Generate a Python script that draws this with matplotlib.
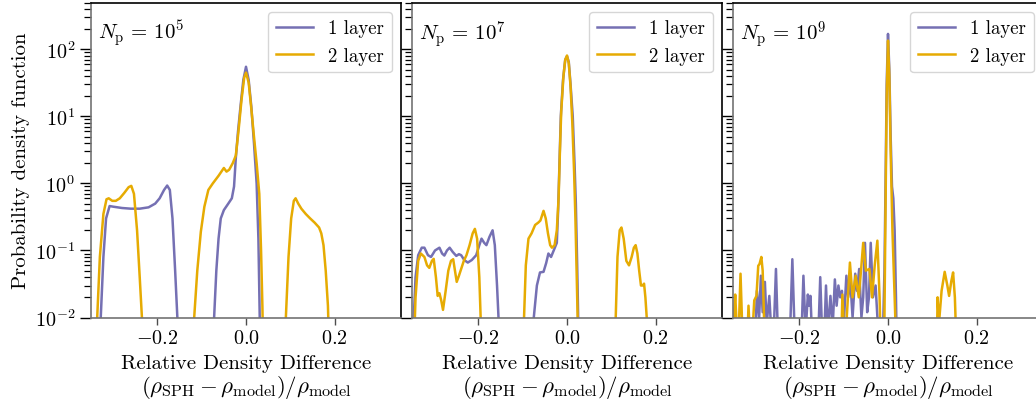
import numpy as np
import matplotlib.pyplot as plt
from matplotlib.ticker import LogLocator, NullFormatter, FixedLocator

plt.rcParams["font.family"] = "cmr10"
plt.rcParams["mathtext.fontset"] = "cm"
plt.rcParams["axes.formatter.use_mathtext"] = True

PURPLE = "#7570b3"
ORANGE = "#e6ab02"

labels_np = [r"$N_{\rm p}\,=\,10^{5}$", r"$N_{\rm p}\,=\,10^{7}$", r"$N_{\rm p}\,=\,10^{9}$"]
series_names = ["1 layer", "2 layer"]
xticks = [-0.2, 0.0, 0.2]

# N_p = 1e5
x5_one = [-0.332, -0.328, -0.322, -0.316, -0.308, -0.300, -0.280, -0.260, -0.240, -0.220,
          -0.205, -0.195, -0.185, -0.178, -0.172, -0.166, -0.160, -0.155, -0.152,
          -0.076, -0.072, -0.067, -0.062, -0.057, -0.050, -0.040, -0.032, -0.027, -0.023,
          -0.018, -0.012, -0.006, 0.000, 0.006, 0.012, 0.018, 0.024, 0.028, 0.031, 0.033]
y5_one = [0.003, 0.01, 0.08, 0.3, 0.46, 0.45, 0.43, 0.42, 0.42, 0.44,
          0.5, 0.6, 0.8, 0.93, 0.8, 0.3, 0.05, 0.01, 0.003,
          0.003, 0.01, 0.05, 0.15, 0.3, 0.4, 0.5, 0.6, 0.9, 2.4,
          6, 15, 35, 55, 35, 14, 4, 1.0, 0.15, 0.01, 0.002]
x5_two = [-0.340, -0.336, -0.330, -0.322, -0.315, -0.310, -0.302, -0.294, -0.285, -0.275,
          -0.265, -0.259, -0.253, -0.246, -0.240, -0.235, -0.232,
          -0.120, -0.117, -0.110, -0.102, -0.094, -0.085, -0.075, -0.062, -0.050, -0.044,
          -0.038, -0.030, -0.023, -0.017, -0.010, -0.004, 0.000, 0.006, 0.012, 0.018,
          0.024, 0.030, 0.034, 0.037, 0.039,
          0.087, 0.090, 0.096, 0.102, 0.108, 0.112, 0.118, 0.125, 0.135, 0.145, 0.155,
          0.165, 0.170, 0.175, 0.180, 0.185, 0.188]
y5_two = [0.003, 0.01, 0.08, 0.35, 0.58, 0.6, 0.55, 0.55, 0.6, 0.72,
          0.88, 0.92, 0.7, 0.2, 0.04, 0.01, 0.003,
          0.003, 0.01, 0.05, 0.19, 0.45, 0.8, 1.0, 1.3, 1.7, 1.5,
          1.6, 2.0, 2.6, 6, 18, 38, 45, 32, 13, 5,
          2.0, 0.7, 0.1, 0.015, 0.003,
          0.003, 0.01, 0.08, 0.3, 0.55, 0.6, 0.5, 0.42, 0.35, 0.3, 0.26,
          0.22, 0.18, 0.12, 0.05, 0.015, 0.003]

# N_p = 1e7
x7_one = [-0.348, -0.342, -0.336, -0.328, -0.322, -0.314, -0.307, -0.298, -0.288, -0.282,
          -0.277, -0.271, -0.265, -0.258, -0.250, -0.244, -0.239, -0.232, -0.224, -0.215,
          -0.205, -0.198, -0.193, -0.187, -0.182, -0.175, -0.168, -0.163, -0.158, -0.154,
          -0.151,
          -0.078, -0.075, -0.068, -0.061, -0.053, -0.047, -0.042, -0.036, -0.030, -0.023,
          -0.020, -0.017, -0.014, -0.009, -0.004, 0.000, 0.004, 0.008, 0.013, 0.017,
          0.020, 0.023, 0.025, 0.027]
y7_one = [0.005, 0.04, 0.085, 0.11, 0.11, 0.085, 0.08, 0.1, 0.11, 0.09,
          0.084, 0.1, 0.11, 0.095, 0.083, 0.088, 0.085, 0.072, 0.066, 0.072,
          0.085, 0.12, 0.15, 0.13, 0.12, 0.16, 0.2, 0.12, 0.03, 0.008,
          0.002,
          0.002, 0.01, 0.03, 0.047, 0.048, 0.065, 0.09, 0.08, 0.1, 0.13,
          0.4, 2, 10, 35, 70, 79, 65, 30, 10, 2,
          0.5, 0.06, 0.012, 0.002]
x7_two = [-0.346, -0.342, -0.336, -0.330, -0.322, -0.316, -0.311, -0.305, -0.301, -0.296,
          -0.292, -0.288, -0.284, -0.280, -0.274, -0.268, -0.262, -0.257, -0.253, -0.249,
          -0.244, -0.239, -0.233, -0.227, -0.220, -0.213, -0.208, -0.203, -0.198, -0.195,
          -0.193,
          -0.099, -0.097, -0.093, -0.087, -0.080, -0.072, -0.065, -0.060, -0.053, -0.048,
          -0.043, -0.038, -0.034, -0.028, -0.023, -0.019, -0.016, -0.013, -0.008, -0.004,
          0.000, 0.004, 0.008, 0.012, 0.016, 0.019, 0.022, 0.024, 0.026,
          0.108, 0.110, 0.114, 0.119, 0.123, 0.128, 0.134, 0.140, 0.146, 0.151,
          0.155, 0.159, 0.163, 0.167, 0.171, 0.174, 0.177, 0.181, 0.183]
y7_two = [0.003, 0.02, 0.07, 0.09, 0.08, 0.06, 0.055, 0.07, 0.075, 0.04,
          0.021, 0.023, 0.018, 0.013, 0.025, 0.05, 0.07, 0.074, 0.05, 0.034,
          0.042, 0.053, 0.07, 0.085, 0.12, 0.18, 0.21, 0.15, 0.04, 0.01,
          0.002,
          0.002, 0.01, 0.06, 0.15, 0.18, 0.24, 0.26, 0.28, 0.39, 0.3,
          0.18, 0.12, 0.11, 0.12, 0.2, 0.6, 3, 12, 40, 70,
          81, 62, 28, 8, 1.5, 0.3, 0.04, 0.01, 0.002,
          0.002, 0.01, 0.08, 0.2, 0.22, 0.15, 0.07, 0.06, 0.08, 0.11,
          0.12, 0.09, 0.05, 0.03, 0.03, 0.032, 0.02, 0.008, 0.002]

# N_p = 1e9
x9_one = [-0.300, -0.296, -0.291, -0.287, -0.283, -0.278, -0.274, -0.268, -0.262, -0.258,
          -0.253, -0.248, -0.222, -0.216, -0.210, -0.196, -0.191, -0.186, -0.181, -0.178,
          -0.175, -0.171, -0.158, -0.153, -0.148, -0.144, -0.140, -0.136, -0.130, -0.125,
          -0.120, -0.116, -0.112, -0.108, -0.104, -0.100, -0.094, -0.090, -0.085, -0.080,
          -0.074, -0.070, -0.065, -0.060, -0.056, -0.052, -0.047, -0.043, -0.039, -0.034,
          -0.028, -0.022, -0.012, -0.008, -0.005, -0.003, 0.000, 0.003, 0.006, 0.009,
          0.012, 0.015, 0.018, 0.020]
y9_one = [0.004, 0.025, 0.01, 0.042, 0.012, 0.034, 0.008, 0.021, 0.004, 0.006,
          0.053, 0.004, 0.004, 0.074, 0.004, 0.004, 0.042, 0.006, 0.022, 0.015,
          0.021, 0.004, 0.004, 0.04, 0.004, 0.005, 0.03, 0.006, 0.021, 0.007,
          0.037, 0.015, 0.03, 0.02, 0.025, 0.008, 0.042, 0.02, 0.035, 0.01,
          0.045, 0.025, 0.053, 0.01, 0.02, 0.13, 0.012, 0.02, 0.13, 0.02,
          0.03, 0.006, 0.004, 0.05, 2, 30, 170, 50, 5, 0.9,
          0.6, 0.2, 0.02, 0.003]
x9_two = [-0.350, -0.348, -0.345, -0.341, -0.338, -0.333, -0.328, -0.318, -0.315, -0.311,
          -0.306, -0.302, -0.297, -0.293, -0.290, -0.286, -0.283, -0.279, -0.276,
          -0.106, -0.103, -0.099, -0.094, -0.086, -0.080, -0.073, -0.066, -0.060, -0.056,
          -0.050, -0.042, -0.036, -0.030, -0.024, -0.019, -0.016, -0.008, -0.005, -0.003,
          0.000, 0.003, 0.006, 0.010, 0.015, 0.019,
          0.110, 0.112, 0.115, 0.121, 0.128, 0.134, 0.138, 0.143, 0.147, 0.151, 0.155]
y9_two = [0.004, 0.01, 0.022, 0.006, 0.004, 0.045, 0.004, 0.004, 0.015, 0.004,
          0.006, 0.018, 0.021, 0.059, 0.063, 0.08, 0.05, 0.006, 0.003,
          0.003, 0.022, 0.005, 0.008, 0.066, 0.02, 0.042, 0.02, 0.06, 0.13,
          0.05, 0.053, 0.02, 0.06, 0.14, 0.02, 0.003, 0.01, 1, 20,
          135, 40, 3, 0.2, 0.02, 0.003,
          0.003, 0.02, 0.008, 0.025, 0.048, 0.03, 0.021, 0.035, 0.047, 0.02, 0.003]

panels = [(x5_one, y5_one, x5_two, y5_two),
          (x7_one, y7_one, x7_two, y7_two),
          (x9_one, y9_one, x9_two, y9_two)]

fig = plt.figure(figsize=(10.36, 4.06), dpi=100)
lefts = [91, 412, 733]
W, H = 1036, 406

for i, (xa, ya, xb, yb) in enumerate(panels):
    ax = fig.add_axes([lefts[i] / W, 87.5 / H, 310 / W, 315 / H])
    ax.plot(xa, ya, color=PURPLE, lw=1.8, label=series_names[0])
    ax.plot(xb, yb, color=ORANGE, lw=1.8, label=series_names[1])
    ax.set_yscale("log")
    ax.set_xlim(-0.35, 0.35)
    ax.set_ylim(1e-2, 5e2)
    ax.xaxis.set_major_locator(FixedLocator(xticks))
    ax.yaxis.set_major_locator(LogLocator(base=10, numticks=10))
    ax.yaxis.set_minor_locator(LogLocator(base=10, subs=np.arange(2, 10), numticks=10))
    ax.tick_params(axis="y", which="major", length=8, width=1, direction="out", labelsize=14.5)
    ax.tick_params(axis="y", which="minor", length=5, width=0.9, direction="out")
    ax.tick_params(axis="x", which="major", length=5, width=1, labelsize=14.5, colors="0.3",
                   labelcolor="black")
    for side in ["left", "bottom"]:
        ax.spines[side].set_color("0.45")
        ax.spines[side].set_linewidth(1.2)
    for side in ["top", "right"]:
        ax.spines[side].set_color("black")
        ax.spines[side].set_linewidth(1.2)
    if i > 0:
        ax.yaxis.set_major_formatter(NullFormatter())
        ax.yaxis.set_minor_formatter(NullFormatter())
    else:
        ax.set_ylabel("Probability density function", fontsize=15, labelpad=3)
    ax.set_xlabel("Relative Density Difference", fontsize=15, labelpad=5)
    ax.text(0.5, -0.238, r"$(\rho_{\mathrm{SPH}}-\rho_{\mathrm{model}})/\rho_{\mathrm{model}}$",
            transform=ax.transAxes, ha="center", va="baseline", fontsize=16.5)
    ax.text(0.023, 0.95, labels_np[i], transform=ax.transAxes, ha="left", va="top",
            fontsize=15)
    ax.legend(loc="upper right", fontsize=13.5, handlelength=2.0, borderaxespad=0.5)

plt.savefig("out.png", dpi=100)
